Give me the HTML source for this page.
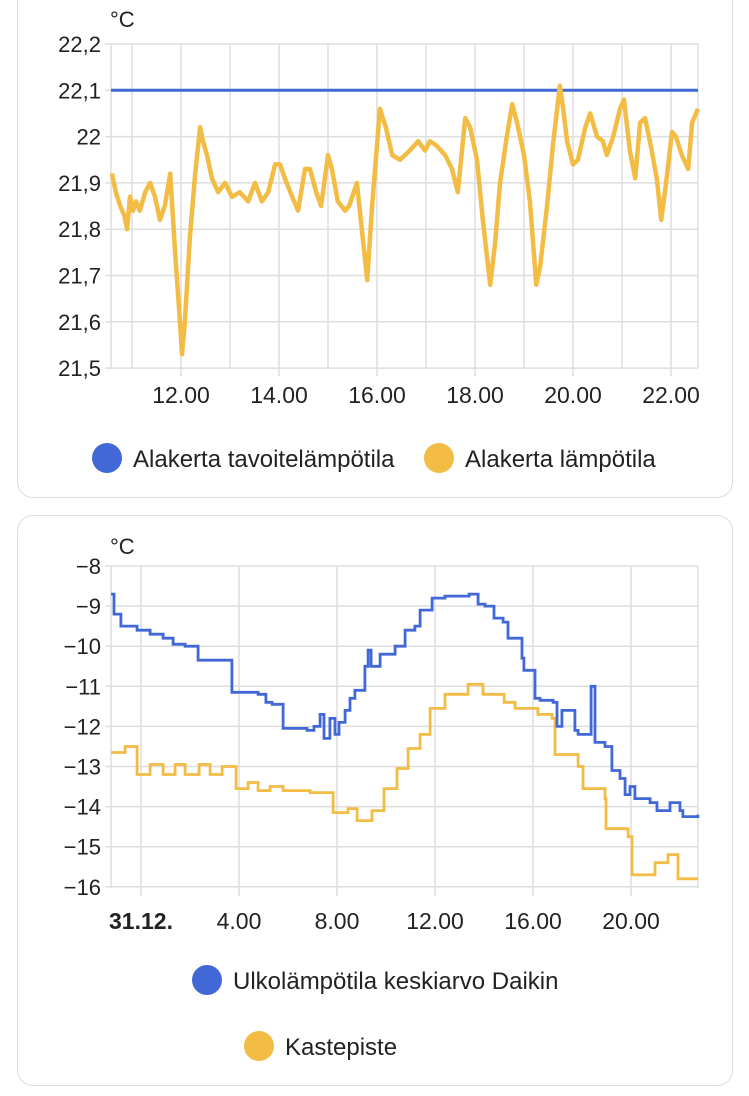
<!DOCTYPE html>
<html><head><meta charset="utf-8">
<style>
body{margin:0;width:749px;height:1096px;background:#fff;font-family:"Liberation Sans",sans-serif;overflow:hidden;position:relative}
.card{position:absolute;left:17px;width:714px;border:1.5px solid #dcdcdc;border-radius:16px;background:#fff}
svg{position:absolute;left:0;top:0}
text{font-family:"Liberation Sans",sans-serif;fill:#222}
</style></head><body>
<div class="card" style="top:-20px;height:516px"></div>
<div class="card" style="top:515px;height:569px"></div>
<svg id="s" width="749" height="1096"></svg>
<script>
// ---- Chart 1 data ----
const c1Yticks=[22.2,22.1,22.0,21.9,21.8,21.7,21.6,21.5];
const c1YLabels=["22,2","22,1","22","21,9","21,8","21,7","21,6","21,5"];
const c1XTicks=[12,14,16,18,20,22];
const c1XLabels=["12.00","14.00","16.00","18.00","20.00","22.00"];
const c1Target=22.1;
const c1Times=[10.59,10.67,10.76,10.84,10.90,10.96,11.02,11.08,11.16,11.27,11.37,11.47,11.57,11.67,11.78,11.88,11.98,12.02,12.08,12.18,12.29,12.39,12.45,12.53,12.63,12.76,12.90,13.04,13.20,13.37,13.51,13.65,13.78,13.92,14.02,14.12,14.27,14.39,14.53,14.63,14.76,14.86,15.00,15.08,15.20,15.35,15.43,15.59,15.69,15.80,15.90,16.06,16.18,16.31,16.47,16.67,16.84,16.98,17.08,17.22,17.39,17.53,17.65,17.80,17.90,18.04,18.16,18.31,18.41,18.51,18.65,18.76,18.86,19.00,19.12,19.25,19.33,19.47,19.59,19.73,19.80,19.88,20.00,20.10,20.25,20.35,20.49,20.61,20.69,20.82,20.96,21.04,21.16,21.27,21.37,21.47,21.57,21.71,21.80,21.90,22.02,22.10,22.22,22.35,22.43,22.55];
const c1Temp=[21.92,21.88,21.85,21.83,21.80,21.87,21.84,21.86,21.84,21.88,21.90,21.87,21.82,21.85,21.92,21.75,21.60,21.53,21.60,21.78,21.92,22.02,21.99,21.96,21.91,21.88,21.90,21.87,21.88,21.86,21.90,21.86,21.88,21.94,21.94,21.91,21.87,21.84,21.93,21.93,21.88,21.85,21.96,21.93,21.86,21.84,21.85,21.90,21.80,21.69,21.85,22.06,22.02,21.96,21.95,21.97,21.99,21.97,21.99,21.98,21.96,21.93,21.88,22.04,22.02,21.95,21.82,21.68,21.77,21.90,22.00,22.07,22.03,21.96,21.86,21.68,21.72,21.85,21.98,22.11,22.06,21.99,21.94,21.95,22.02,22.05,22.00,21.99,21.96,22.00,22.06,22.08,21.97,21.91,22.03,22.04,21.99,21.91,21.82,21.90,22.01,22.00,21.96,21.93,22.03,22.06];
// ---- Chart 2 data ----
const c2Yticks=[-8,-9,-10,-11,-12,-13,-14,-15,-16];
const c2YLabels=["−8","−9","−10","−11","−12","−13","−14","−15","−16"];
const c2XTicks=[0,4,8,12,16,20];
const c2XLabels=["31.12.","4.00","8.00","12.00","16.00","20.00"];
const c2OutTimes=[-1.22,-1.10,-0.82,-0.16,0.37,0.90,1.31,1.80,2.33,3.71,4.78,5.10,5.35,5.80,6.78,7.06,7.31,7.47,7.71,7.92,8.08,8.33,8.53,8.73,9.14,9.27,9.39,9.76,10.37,10.78,11.18,11.39,11.88,12.41,13.39,13.76,14.04,14.41,14.78,14.98,15.55,15.63,15.80,16.08,16.29,16.82,16.98,17.18,17.71,17.84,18.37,18.53,18.94,19.22,19.55,19.76,19.96,20.16,20.78,21.06,21.59,22.00,22.12,22.73];
const c2Out=[-8.7,-9.2,-9.5,-9.6,-9.7,-9.8,-9.95,-10.0,-10.35,-11.15,-11.2,-11.4,-11.45,-12.05,-12.1,-12.0,-11.7,-12.3,-11.8,-12.2,-11.9,-11.6,-11.3,-11.1,-10.5,-10.1,-10.5,-10.2,-10.0,-9.6,-9.5,-9.1,-8.8,-8.75,-8.7,-8.95,-9.0,-9.3,-9.4,-9.8,-10.3,-10.6,-10.6,-11.3,-11.35,-11.4,-12.0,-11.6,-12.1,-12.2,-11.0,-12.4,-12.5,-13.1,-13.3,-13.7,-13.5,-13.8,-13.9,-14.1,-13.9,-14.1,-14.25,-14.2];
const c2DewTimes=[-1.22,-0.65,-0.16,0.37,0.90,1.39,1.80,2.37,2.82,3.31,3.88,4.37,4.78,5.27,5.80,6.90,7.84,8.45,8.82,9.43,9.92,10.45,10.90,11.39,11.80,12.41,13.35,13.96,14.82,15.27,16.20,16.78,16.90,17.84,18.04,18.94,18.98,19.88,20.04,20.98,21.51,21.92,22.73];
const c2Dew=[-12.65,-12.5,-13.2,-12.95,-13.2,-12.95,-13.2,-12.95,-13.2,-13.0,-13.55,-13.4,-13.6,-13.5,-13.6,-13.65,-14.15,-14.05,-14.35,-14.1,-13.55,-13.05,-12.55,-12.2,-11.55,-11.2,-10.95,-11.2,-11.4,-11.55,-11.7,-11.8,-12.7,-13.0,-13.55,-13.8,-14.55,-14.75,-15.7,-15.4,-15.2,-15.8,-15.8];

const NS="http://www.w3.org/2000/svg",S=document.getElementById('s');
function mk(t,a,txt){const e=document.createElementNS(NS,t);for(const k in a)e.setAttribute(k,a[k]);if(txt!==undefined)e.textContent=txt;S.appendChild(e);return e;}
const L=111,R=698;
const x1=h=>181+(h-12)*49, y1=v=>44+(22.2-v)*463;
const x2=h=>141+h*24.5, y2=v=>566+(-8-v)*40.1;
function grid(xf,yf,hmin,hmax,step,yt,yl,top,bot){
  for(let h=Math.ceil(hmin/step)*step;h<=hmax;h+=step){const g=mk('line',{x1:xf(h),x2:xf(h),y1:top,y2:bot,stroke:'#dedede','stroke-width':1.5});
  }
  mk('line',{x1:R,x2:R,y1:top,y2:bot,stroke:'#dedede','stroke-width':1.5});
  mk('line',{x1:L,x2:L,y1:top,y2:bot,stroke:'#dedede','stroke-width':1.5});
  yt.forEach((v,i)=>{const g=mk('line',{x1:L-6,x2:R,y1:yf(v),y2:yf(v),stroke:'#dedede','stroke-width':1.5});
  
  const t=mk('text',{x:L-10,y:yf(v)+8,'text-anchor':'end','font-size':22},yl[i]);
  });
}
grid(x1,y1,10.57,22.59,1,c1Yticks,c1YLabels,44,368);
c1XTicks.forEach((h,i)=>{mk('line',{x1:x1(h),x2:x1(h),y1:368,y2:376,stroke:'#dedede','stroke-width':1.5});
 const t=mk('text',{x:x1(h),y:403,'text-anchor':'middle','font-size':23},c1XLabels[i]);
 });
let u=mk('text',{x:110,y:27,'font-size':22},'°C');
let tl=mk('line',{x1:L,x2:R,y1:y1(c1Target),y2:y1(c1Target),stroke:'#4168d6','stroke-width':3});

let p=c1Times.map((h,i)=>x1(h).toFixed(1)+','+y1(c1Temp[i]).toFixed(1)).join(' ');
let pl=mk('polyline',{points:p,fill:'none',stroke:'#f2bc45','stroke-width':4.5,'stroke-linejoin':'round'});


grid(x2,y2,-1.22,22.73,4,c2Yticks,c2YLabels,566,888);
c2XTicks.forEach((h,i)=>{mk('line',{x1:x2(h),x2:x2(h),y1:888,y2:896,stroke:'#dedede','stroke-width':1.5});
 const a={x:x2(h),y:929,'text-anchor':'middle','font-size':23};if(i===0)a['font-weight']='bold';
 const t=mk('text',a,c2XLabels[i]);
 });
u=mk('text',{x:110,y:554,'font-size':22},'°C');
function step(ts,vs){let s=[];for(let i=0;i<ts.length;i++){if(i>0)s.push(x2(ts[i]).toFixed(1)+','+y2(vs[i-1]).toFixed(1));s.push(x2(ts[i]).toFixed(1)+','+y2(vs[i]).toFixed(1));}return s.join(' ');}
pl=mk('polyline',{points:step(c2DewTimes,c2Dew),fill:'none',stroke:'#f2bc45','stroke-width':2.8});

pl=mk('polyline',{points:step(c2OutTimes,c2Out),fill:'none',stroke:'#4168d6','stroke-width':2.8});


function leg(cx,cy,col,txt,name){const g=mk('circle',{cx:cx,cy:cy,r:15,fill:col});
 
 const t=mk('text',{x:cx+26,y:cy+9,'font-size':24},txt);
 }
leg(107,458,'#4168d6','Alakerta tavoitelämpötila','legend-target-temperature');
leg(439,458,'#f2bc45','Alakerta lämpötila','legend-temperature');
leg(207,980,'#4168d6','Ulkolämpötila keskiarvo Daikin','legend-outdoor-temperature');
leg(259,1046,'#f2bc45','Kastepiste','legend-dew-point');
</script>
</body></html>
